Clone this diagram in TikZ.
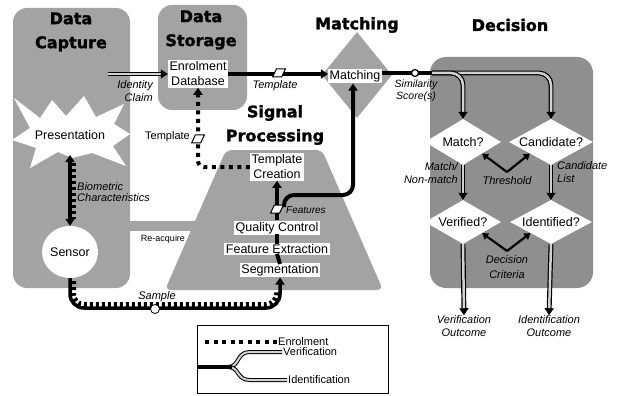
\documentclass[tikz,border=0pt]{standalone}
\usepackage{fontspec}
\setmainfont{Liberation Sans}
\newfontfamily\headfont{DejaVu Sans}[BoldFeatures={FakeBold=1.5}]
\usetikzlibrary{arrows.meta,shapes.geometric}
\definecolor{halftone}{gray}{0.64}
\definecolor{halftonedark}{gray}{0.56}
\definecolor{stripe}{gray}{0.82}
\tikzset{
  heading/.style={font=\headfont\bfseries\fontsize{16}{24}\selectfont, align=center, inner sep=0pt},
  stage/.style={fill=white, font=\fontsize{12.5}{15}\selectfont, inner sep=1.5pt, align=center},
  plain/.style={font=\fontsize{12.5}{15}\selectfont, inner sep=0pt, align=center},
  lbl/.style={font=\itshape\fontsize{11}{13}\selectfont, inner sep=0pt, align=center},
  legendtext/.style={font=\fontsize{11}{13}\selectfont, inner sep=1pt, anchor=west},
  arrowend/.style={-{Triangle[length=7pt,width=9pt]}},
  fullline/.style={line width=3.5pt},
  enrol/.style={line width=4pt, dash pattern=on 4pt off 4.5pt},
  teeth/.style={line width=6pt, dash pattern=on 3pt off 3pt},
  verif/.style={draw=black, line width=1.2pt, double=stripe, double distance=2.5pt},
  doc/.style={trapezium, trapezium left angle=65, trapezium right angle=115, draw, fill=white, line width=1pt, minimum width=12pt, minimum height=8pt, inner xsep=2pt, inner ysep=2pt, text height=2pt, text depth=0pt},
  smallarrow/.style={line width=2.2pt, -{Triangle[length=6pt,width=7.5pt]}},
  query/.style={diamond, fill=white, minimum height=46pt, inner sep=0pt},
}
\begin{document}
\begin{tikzpicture}[x=1pt,y=-1pt]
\path[use as bounding box] (0,0) rectangle (622,396);
\fill[white] (0,0) rectangle (622,396);

% shaded zones of the stages
\fill[halftone, rounded corners=14pt] (13,8) rectangle (130,288);
\fill[halftone, rounded corners=14pt] (158,5) rectangle (247,110);
\fill[halftone, rounded corners=6pt] (226,150) -- (322,150) -- (383,290) -- (165,290) -- cycle;
\fill[halftone] (128,221) rectangle (205,231);
\node[diamond, fill=halftone, minimum width=70pt, minimum height=86pt, inner sep=0pt] (matchzone) at (357,75) {};
\fill[halftonedark, rounded corners=16pt] (430,57) rectangle (593,288);

% presentation burst
\fill[white] (14,98) -- (40,118) -- (52,100) -- (66,116) -- (84,96) -- (96,117) -- (124,104)
  -- (114,124) -- (130,134) -- (113,146) -- (126,166) -- (92,153) -- (72,158) -- (58,152)
  -- (30,168) -- (36,148) -- (12,140) -- (30,128) -- cycle;

% stage headings
\node[heading] (hcapture) at (71,32) {Data\\Capture};
\node[heading] (hstorage) at (201,30) {Data\\Storage};
\node[heading] (hsignal) at (275,125) {Signal\\Processing};
\node[heading] (hmatching) at (357,25) {Matching};
\node[heading] (hdecision) at (510,25) {Decision};

% process nodes
\node[plain] (presentation) at (70,135) {Presentation};
\node[ellipse, fill=white, minimum width=46pt, minimum height=52pt, inner sep=0pt, font=\fontsize{12.5}{15}\selectfont] (sensor) at (70,252) {Sensor};
\node[stage] (db) at (198,74) {Enrolment\\Database};
\node[stage] (matching) at (355,76) {Matching};
\node[stage] (tc) at (277,167) {Template\\Creation};
\node[stage] (qc) at (277,228) {Quality Control};
\node[stage] (fe) at (277,249) {Feature Extraction};
\node[stage] (seg) at (280,270) {Segmentation};

% decision queries
\node[query, minimum width=76pt] (matchq) at (463,142) {};
\node[plain] (matchqt) at (463,142) {Match?};
\node[query, minimum width=84pt] (candq) at (551,142) {};
\node[plain] (candqt) at (551,142) {Candidate?};
\node[query, minimum width=76pt, minimum height=44pt] (verq) at (463,222) {};
\node[plain] (verqt) at (463,222) {Verified?};
\node[query, minimum width=82pt, minimum height=44pt] (idq) at (551,222) {};
\node[plain] (idqt) at (551,222) {Identified?};
\node[lbl] (vout) at (464,326) {Verification\\Outcome};
\node[lbl] (iout) at (549,326) {Identification\\Outcome};

% data capture connectors
\coordinate (biotop) at (70,155);
\draw[teeth] (73,163) -- (73,219);
\draw[fullline, {Triangle[length=7pt,width=9pt]}-{Triangle[length=7pt,width=9pt]}] (biotop) -- (sensor.north);
\coordinate (claimstart) at (108,74);
\draw[verif, arrowend] (claimstart) -- (db.west);

% sample path to signal processing
\draw[teeth, rounded corners=11pt] (73,281) -- (73,305) -- (277,305) -- (277,292);
\draw[fullline, arrowend, rounded corners=14pt] (sensor.south) -- (70,308) -- (280,308) -- (seg.south);

% signal processing connectors
\draw[line width=4pt] ([yshift=-1.5pt]seg.north) -- ([yshift=1.5pt]fe.south);
\draw[line width=4pt] ([yshift=-1.5pt]fe.north) -- ([yshift=1.5pt]qc.south);
\draw[fullline, arrowend] (qc.north) -- (tc.south);
\coordinate (featstart) at (284,207);
\draw[line width=4pt, arrowend, rounded corners=10pt] (featstart) -- (284,195) -- (353,195) -- (matching.south -| 353,0);
\draw[enrol, arrowend, rounded corners=6pt] (tc.west) -| (db.south);

% storage to matching
\draw[fullline, arrowend] (db.east) -- (db.east -| matching.west);

% similarity scores into the decision
\coordinate (simsplit) at (432,73);
\draw[verif, arrowend, rounded corners=12pt] (simsplit) -- (candq.north |- simsplit) -- (candq.north);
\draw[verif, arrowend, rounded corners=12pt] (simsplit) -- (matchq.north |- simsplit) -- (matchq.north);
\draw[line width=4pt] (simsplit -| matching.east) -- (simsplit);
\node[circle, draw, fill=white, line width=1.2pt, minimum size=7pt, inner sep=0pt] (simdot) at (415,73) {};

% decision connectors
\draw[verif, arrowend] (matchq.south) -- (verq.north);
\draw[verif, arrowend] (candq.south) -- (idq.north);
\draw[verif, arrowend] (verq.south) -- (vout.north);
\draw[verif, arrowend] (idq.south) -- (iout.north);
\coordinate (thrv) at (507,172);
\draw[smallarrow] (thrv) -- (matchq.south east);
\draw[smallarrow] (thrv) -- (candq.south west);
\coordinate (critv) at (507,251);
\draw[smallarrow] (critv) -- (verq.south east);
\draw[smallarrow] (critv) -- (idq.south west);

% data icons
\node[doc] (tplicon) at (279,73) {};
\node[doc] (tplicon2) at (198,139) {};
\node[doc] (featicon) at (277,209) {};
\node[circle, draw, fill=white, line width=0.8pt, minimum size=9pt, inner sep=0pt] (sampleicon) at (155,309) {};

% connector labels
\node[lbl, align=right, anchor=east] (claimlbl) at (153,91) {Identity\\Claim};
\node[lbl] (tpllbl) at (275,86) {Template};
\node[font=\fontsize{11}{13}\selectfont, inner sep=0pt, anchor=east] (tpllbl2) at (190,137) {Template};
\node[lbl, font=\itshape\fontsize{10}{12}\selectfont, anchor=west] (featlbl) at (286,210) {Features};
\node[lbl, align=left, anchor=west, font=\itshape\fontsize{11}{11.5}\selectfont] (biolbl) at (77,192) {Biometric\\Characteristics};
\node[lbl] (samplelbl) at (157,297) {Sample};
\node[font=\fontsize{9}{10}\selectfont, inner sep=0pt] (reacq) at (163,239) {Re-acquire};
\node[lbl, font=\itshape\fontsize{10.5}{12}\selectfont] (simlbl) at (416,91) {Similarity\\Score(s)};
\node[lbl, align=right, anchor=east] (mnmlbl) at (458,173) {Match/\\Non-match};
\node[lbl, align=left, anchor=west] (clistlbl) at (557,172) {Candidate\\List};
\node[lbl] (thrlbl) at (507,181) {Threshold};
\node[lbl, font=\itshape\fontsize{11}{15}\selectfont] (critlbl) at (507,267) {Decision\\Criteria};

% legend
\node[draw, line width=1pt, minimum width=191pt, minimum height=68pt, inner sep=0pt, anchor=north west] (legend) at (197,325) {};
\coordinate (lgenrolA) at (205,342);
\coordinate (lgenrolB) at (277,342);
\draw[enrol] (lgenrolA) -- (lgenrolB);
\node[legendtext] (lgenrol) at (lgenrolB) {Enrolment};
\coordinate (lgfork) at (228,367);
\coordinate (lgverB) at (282,352);
\coordinate (lgidB) at (287,380);
\draw[verif, line width=1pt, double distance=2pt] (lgfork) .. controls (240,367) and (236,352) .. (250,352) -- (lgverB);
\draw[verif, line width=1pt, double distance=2pt] (lgfork) .. controls (240,367) and (236,380) .. (250,380) -- (lgidB);
\draw[line width=4pt] (legend.west |- lgfork) -- ([xshift=4pt]lgfork);
\node[legendtext] (lgver) at (lgverB) {Verification};
\node[legendtext] (lgid) at (lgidB) {Identification};
\end{tikzpicture}
\end{document}
